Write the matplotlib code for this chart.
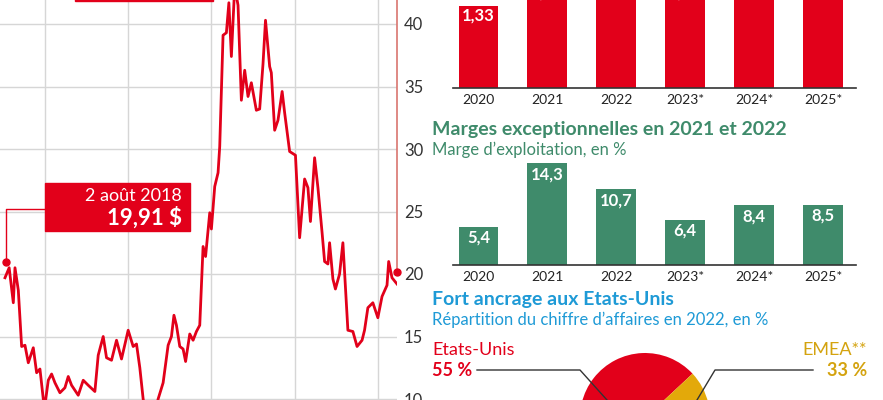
import matplotlib
matplotlib.use("Agg")
import matplotlib.pyplot as plt
from matplotlib.patches import Rectangle
from matplotlib.lines import Line2D

plt.rcParams['font.family'] = ['Lato', 'DejaVu Sans']

# --- data -------------------------------------------------------------
# share price in $, dates as decimal years
price_t = [2018.52, 2018.57, 2018.62, 2018.64, 2018.68, 2018.72, 2018.76, 2018.80,
           2018.86, 2018.90, 2018.94, 2018.98, 2019.00, 2019.04, 2019.08, 2019.12,
           2019.18, 2019.24, 2019.28, 2019.32, 2019.40, 2019.46, 2019.52, 2019.60,
           2019.64, 2019.70, 2019.74, 2019.80, 2019.86, 2019.92, 2020.00, 2020.06,
           2020.10, 2020.14, 2020.18, 2020.26, 2020.36, 2020.42, 2020.48, 2020.52,
           2020.55, 2020.58, 2020.62, 2020.66, 2020.69, 2020.74, 2020.78, 2020.82,
           2020.86, 2020.90, 2020.93, 2020.98, 2021.00, 2021.04, 2021.08, 2021.10,
           2021.14, 2021.18, 2021.21, 2021.24, 2021.28, 2021.32, 2021.36, 2021.40,
           2021.44, 2021.48, 2021.54, 2021.58, 2021.62, 2021.65, 2021.70, 2021.72,
           2021.76, 2021.80, 2021.85, 2021.88, 2021.94, 2022.01, 2022.06, 2022.12,
           2022.16, 2022.19, 2022.24, 2022.28, 2022.33, 2022.36, 2022.40, 2022.42,
           2022.46, 2022.49, 2022.54, 2022.58, 2022.64, 2022.70, 2022.75, 2022.81,
           2022.84, 2022.88, 2022.94, 2023.00, 2023.05, 2023.11, 2023.13, 2023.17,
           2023.23]
price_v = [19.7, 20.5, 17.7, 20.5, 18.7, 14.2, 14.3, 12.9,
           14.1, 12.1, 12.4, 10.0, 9.5, 11.5, 12.0, 11.3,
           10.5, 10.9, 11.8, 11.1, 10.3, 11.5, 11.1, 10.6,
           13.5, 15.0, 13.3, 13.1, 14.7, 13.2, 15.5, 14.2,
           14.4, 12.5, 10.0, 7.0, 10.0, 11.3, 14.3, 15.0,
           16.7, 15.9, 14.2, 14.0, 13.0, 15.2, 14.7, 15.4,
           15.9, 22.2, 21.4, 24.9, 23.6, 27.0, 28.1, 30.2,
           39.1, 39.3, 41.7, 37.4, 43.0, 41.5, 33.9, 36.3,
           34.2, 35.3, 33.1, 33.2, 36.8, 40.3, 36.6, 36.1,
           31.5, 32.3, 34.6, 32.9, 29.8, 29.5, 22.9, 27.6,
           26.9, 24.2, 29.3, 26.9, 23.3, 21.0, 20.8, 22.5,
           19.6, 18.8, 20.0, 22.5, 15.5, 15.4, 14.2, 14.7,
           15.5, 17.3, 17.7, 16.5, 18.2, 19.1, 21.0, 19.7,
           19.2]
start_t, start_v = 2018.53, 21.0
end_t, end_v = 2023.23, 20.2
annot_date = "2 août 2018"
annot_price = "19,91 $"

years = ["2020", "2021", "2022", "2023*", "2024*", "2025*"]
top_vals = [1.33, 1.70, 1.74, 1.71, 1.90, 2.00]
margins = [5.4, 14.3, 10.7, 6.4, 8.4, 8.5]

regions = ["Etats-Unis", "Autres", "EMEA**"]
shares = [55, 12, 33]

RED = "#e2001a"
GREEN = "#3f8b6b"
BLUE = "#1e9ad6"
GOLD = "#e3a90a"
GOLD_TXT = "#d4a30f"

W, H = 883, 400
fig = plt.figure(figsize=(W / 100, H / 100), dpi=100)


def fx(x):
    return x / W


def fy(y):
    return 1 - y / H


def box(x0, y0, x1, y1):
    return [fx(x0), fy(y1), (x1 - x0) / W, (y1 - y0) / H]


# --- price chart ------------------------------------------------------
ax = fig.add_axes(box(0, 0, 397, 400))
ax.set_xlim(2018.46, 2023.23)
ax.set_ylim(9.92, 41.92)
for s in ["top", "left", "bottom", "right"]:
    ax.spines[s].set_visible(False)
ax.set_xticks([2019, 2020, 2021, 2022, 2023])
ax.set_yticks([10, 15, 20, 25, 30, 35, 40])
ax.grid(True, color="#d6d6d6", lw=1)
ax.tick_params(axis="x", length=0, labelbottom=False)
ax.yaxis.tick_right()
ax.tick_params(axis="y", length=0, pad=5, labelsize=12, labelcolor="#333333")
ax.plot(price_t, price_v, color=RED, lw=2, zorder=3)
ax.vlines(2023.23, end_v, 41.92, color="#d9756f", lw=1.2, clip_on=False, zorder=3)
ax.plot([start_t], [start_v], "o", color=RED, ms=5, clip_on=False, zorder=4)
ax.plot([end_t], [end_v], "o", color=RED, ms=5, clip_on=False, zorder=4)

# annotation boxes
fig.add_artist(Rectangle((fx(45), fy(231)), 145 / W, 48 / H, transform=fig.transFigure,
                         color=RED, zorder=5))
fig.add_artist(Line2D([fx(6), fx(6), fx(45)], [fy(261), fy(209), fy(209)],
                      transform=fig.transFigure, color=RED, lw=1))
fig.text(fx(182), fy(196), annot_date, color="white", fontsize=13, ha="right",
         va="center", zorder=6)
fig.text(fx(182), fy(218), annot_price, color="white", fontsize=16, ha="right",
         va="center", fontweight="bold", zorder=6)
fig.add_artist(Rectangle((fx(75), fy(1)), 138 / W, 40 / H, transform=fig.transFigure,
                         color=RED, zorder=5))

# --- top bar chart (cut) ----------------------------------------------
x = list(range(len(years)))
ax1 = fig.add_axes(box(453, 0, 856, 88))
ax1.bar(x, top_vals, width=0.58, color=RED)
ax1.set_xlim(-0.37, 5.48)
ax1.set_ylim(0, 88 / 61.7)
for i, v in enumerate(top_vals):
    ax1.text(i, v - 0.16, f"{v:.2f}".replace(".", ","), color="white", fontsize=12,
             fontweight="bold", ha="center", va="center", clip_on=True)
for s in ["top", "left", "right"]:
    ax1.spines[s].set_visible(False)
ax1.spines["bottom"].set_color("#333333")
ax1.spines["bottom"].set_linewidth(1.2)
ax1.set_yticks([])
ax1.set_xticks(x, years)
ax1.tick_params(axis="x", length=0, pad=4, labelsize=10, labelcolor="#222222")

# --- margin chart -----------------------------------------------------
fig.text(fx(432), fy(130), "Marges exceptionnelles en 2021 et 2022", color=GREEN,
         fontsize=14, fontweight="bold", va="center")
fig.text(fx(432), fy(150), "Marge d’exploitation, en %", color=GREEN, fontsize=12,
         va="center")
ax2 = fig.add_axes(box(453, 158, 856, 265))
ax2.bar(x, margins, width=0.58, color=GREEN)
ax2.set_xlim(-0.37, 5.48)
ax2.set_ylim(0, 107 / 7.1)
for i, v in enumerate(margins):
    ax2.text(i, v - 1.55, f"{v:.1f}".replace(".", ","), color="white", fontsize=12,
             fontweight="bold", ha="center", va="center")
for s in ["top", "left", "right"]:
    ax2.spines[s].set_visible(False)
ax2.spines["bottom"].set_color("#333333")
ax2.spines["bottom"].set_linewidth(1.2)
ax2.set_yticks([])
ax2.set_xticks(x, years)
ax2.tick_params(axis="x", length=0, pad=4, labelsize=10, labelcolor="#222222")

# --- pie ---------------------------------------------------------------
fig.text(fx(432), fy(300), "Fort ancrage aux Etats-Unis", color=BLUE, fontsize=14,
         fontweight="bold", va="center")
fig.text(fx(432), fy(320), "Répartition du chiffre d’affaires en 2022, en %", color=BLUE,
         fontsize=12, va="center")
ax3 = fig.add_axes(box(580, 353, 710, 483))
ax3.pie(shares, colors=[RED, "#9b9b9b", GOLD], startangle=43, counterclock=True,
        radius=1, wedgeprops=dict(linewidth=0))
ax3.set_xlim(-1, 1)
ax3.set_ylim(-1, 1)
ax3.set_aspect("equal")

fig.text(fx(432), fy(350), regions[0], color=RED, fontsize=13, va="center")
fig.text(fx(432), fy(371), f"{shares[0]} %", color=RED, fontsize=13,
         fontweight="bold", va="center")
fig.text(fx(867), fy(350), regions[2], color=GOLD_TXT, fontsize=13, va="center",
         ha="right")
fig.text(fx(867), fy(371), f"{shares[2]} %", color=GOLD_TXT, fontsize=13,
         fontweight="bold", va="center", ha="right")
fig.add_artist(Line2D([fx(477), fx(580), fx(607)], [fy(370), fy(370), fy(400)],
                      transform=fig.transFigure, color="#333333", lw=1))
fig.add_artist(Line2D([fx(813), fx(715), fx(697)], [fy(370), fy(370), fy(400)],
                      transform=fig.transFigure, color="#333333", lw=1))

fig.savefig("out.png", dpi=100)
